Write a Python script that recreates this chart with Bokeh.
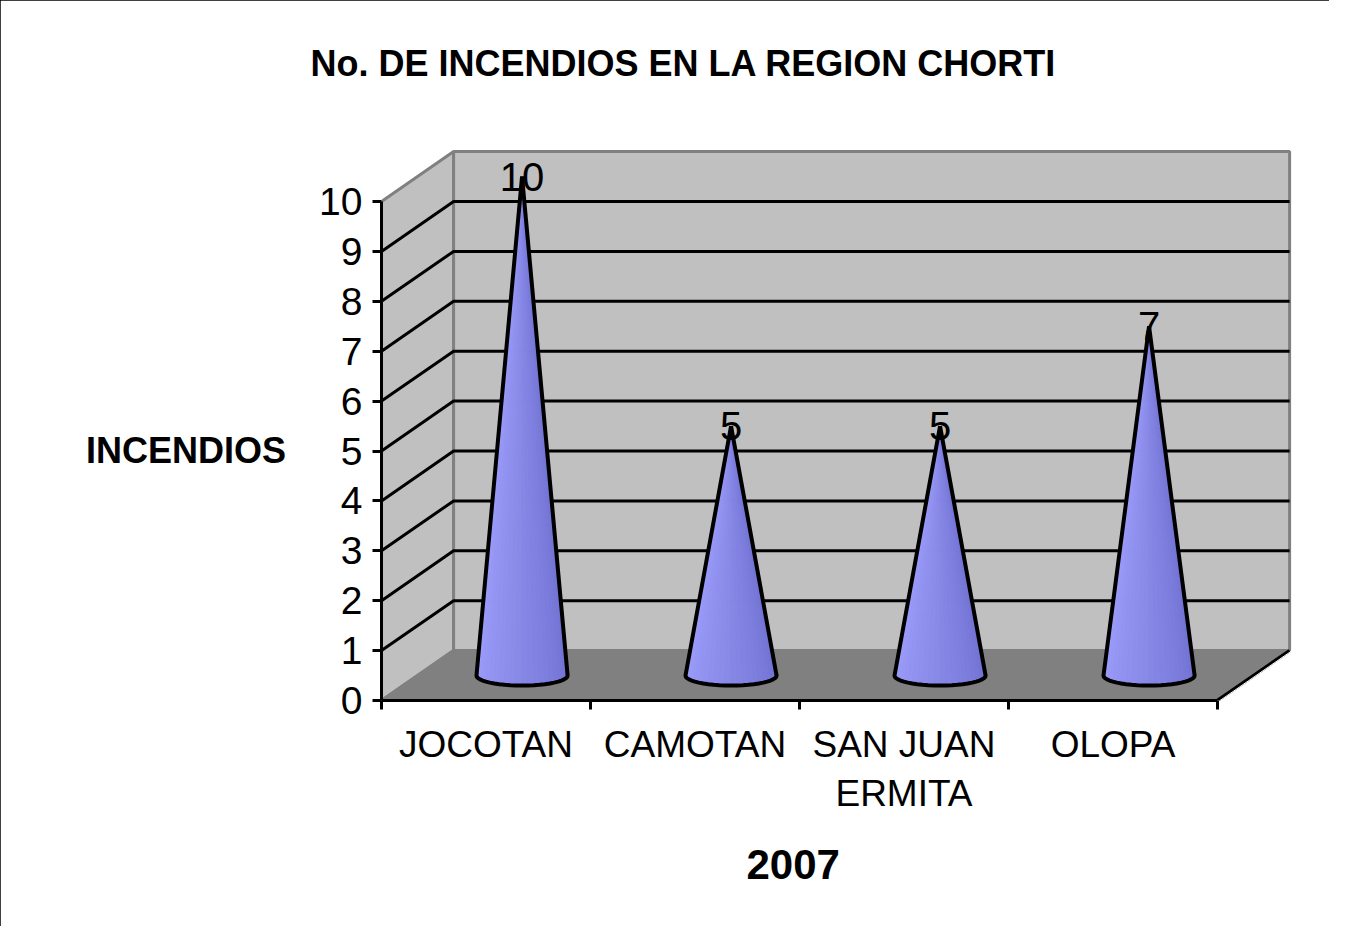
import numpy as np
from bokeh.plotting import figure
from bokeh.models import Range1d, FixedTicker, ColumnDataSource, Title
from bokeh.core.properties import value
from bokeh.embed import file_html
from bokeh.resources import INLINE

# ---------------- data ----------------
categories = ["JOCOTAN", "CAMOTAN", "SAN JUAN\nERMITA", "OLOPA"]
incendios = [10, 5, 5, 7]
y_ticks = [0, 1, 2, 3, 4, 5, 6, 7, 8, 9, 10]
title_text = "No. DE INCENDIOS EN LA REGION CHORTI"
y_title = "INCENDIOS"
x_title = "2007"

# ---------------- layout ----------------
W, H = 1329, 926
FL, FR, FT, FB = 381, 1310, 102, 700      # frame edges (canvas px)
PX_X, PX_Y = 209.0, 49.9                  # px per data unit
x_end = (FR - FL) / PX_X
y_end = (FB - FT) / PX_Y
DX, DY = 0.345, 1.0                       # 3D depth offset
FONT = "Liberation Sans"

n = len(categories)
top = max(y_ticks)

p = figure(width=W, height=H, x_range=Range1d(0, x_end), y_range=Range1d(0, y_end),
           output_backend="svg", toolbar_location=None,
           min_border_left=FL, min_border_right=W - FR,
           min_border_top=FT, min_border_bottom=H - FB)
p.xgrid.visible = False
p.ygrid.visible = False
p.outline_line_color = None
p.background_fill_color = "white"
p.border_fill_color = "white"
p.styles = {"outline": "3px solid black", "outline-offset": "-3px"}

# title
p.title.text = title_text
p.title.align = "left"
p.title.offset = 310 - FL
p.title.standoff = 37
p.title.text_font = FONT
p.title.text_font_size = "36px"
p.title.text_font_style = "bold"
p.title.text_color = "black"

# x title below the axis
p.add_layout(Title(text=x_title, align="left", offset=746 - FL, standoff=63,
                   text_font=FONT, text_font_size="42px", text_font_style="bold",
                   text_color="black"), "below")

WALL = "#c0c0c0"
FLOOR = "#808080"
EDGE = "#808080"

# side wall
p.patch([0, DX, DX, 0], [0, DY, top + DY, top], fill_color=WALL, line_color=EDGE, line_width=3)
# back wall
p.quad(left=DX, right=n + DX, bottom=DY, top=top + DY, fill_color=WALL, line_color=EDGE, line_width=3)
# floor
p.patch([0, n, n + DX, DX], [0, 0, DY, DY], fill_color=FLOOR, line_color=None)
p.line([0, DX, n + DX], [0, DY, DY], line_color=EDGE, line_width=3)
p.line([n, n + DX], [0, DY], line_color="black", line_width=3.5)
p.line([n + 0.012, n + DX + 0.012], [0, DY], line_color="white", line_width=1)

# grid lines
gx, gy = [], []
for k in y_ticks[1:-1]:
    gx.append([0, DX, n + DX])
    gy.append([k, k + DY, k + DY])
p.multi_line(gx, gy, line_color="black", line_width=3)

# cones
a, b = 0.218, 0.2
nseg = 24
th = np.linspace(np.pi, 2 * np.pi, nseg + 1)
c0 = np.array([160, 160, 255])
c1 = np.array([112, 112, 208])
sx, sy, sc = [], [], []
ox, oy = [], []
for i, v in enumerate(incendios):
    cx = i + 0.5 + DX / 2
    cy = DY / 2
    ax, ay = cx, v + DY / 2
    px = cx + a * np.cos(th)
    py = cy + b * np.sin(th)
    for j in range(nseg):
        sx.append([ax, px[j], px[j + 1]])
        sy.append([ay, py[j], py[j + 1]])
        t = j / (nseg - 1)
        col = (c0 * (1 - t) + c1 * t).astype(int)
        sc.append("#%02x%02x%02x" % tuple(col))
    ox.append([ax] + list(px) + [ax])
    oy.append([ay] + list(py) + [ay])
p.patches(sx, sy, fill_color=sc, line_color=sc, line_width=1)
p.multi_line(ox, oy, line_color="black", line_width=4, line_join="round")

# value labels
src = ColumnDataSource(dict(x=[i + 0.5 + DX / 2 for i in range(n)],
                            y=[v + DY / 2 for v in incendios],
                            t=[str(v) for v in incendios]))
p.text(x="x", y="y", text="t", source=src, text_align="center", text_baseline="middle",
       text_font=value(FONT), text_font_size="40px", text_color="black")

# y axis
yax = p.yaxis[0]
yax.ticker = FixedTicker(ticks=y_ticks)
yax.bounds = (0, top)
yax.axis_line_width = 3
yax.major_tick_line_width = 3
yax.major_tick_out = 9
yax.major_tick_in = 0
yax.minor_tick_line_color = None
yax.major_label_text_font = FONT
yax.major_label_text_font_size = "39px"
yax.major_label_text_color = "black"
yax.major_label_standoff = 10
yax.axis_label = "\n\n" + y_title
yax.axis_label_text_font = FONT
yax.axis_label_text_font_size = "36px"
yax.axis_label_text_font_style = "bold"
yax.axis_label_text_color = "black"
yax.axis_label_text_line_height = 1.2
yax.axis_label_standoff = 30
if "axis_label_orientation" in yax.properties():
    yax.axis_label_orientation = "horizontal"

# x axis
xax = p.xaxis[0]
xax.ticker = FixedTicker(ticks=[i + 0.5 for i in range(n)], minor_ticks=list(range(n + 1)))
xax.major_label_overrides = {i + 0.5: c for i, c in enumerate(categories)}
xax.bounds = (0, n)
xax.axis_line_width = 3
xax.major_tick_line_color = None
xax.major_tick_out = 0
xax.major_tick_in = 0
xax.minor_tick_line_color = "black"
xax.minor_tick_line_width = 3
xax.minor_tick_out = 9
xax.minor_tick_in = 0
xax.major_label_text_font = FONT
xax.major_label_text_font_size = "37px"
xax.major_label_text_color = "black"
xax.major_label_standoff = 14

open("out.html", "w").write(file_html(p, INLINE))
